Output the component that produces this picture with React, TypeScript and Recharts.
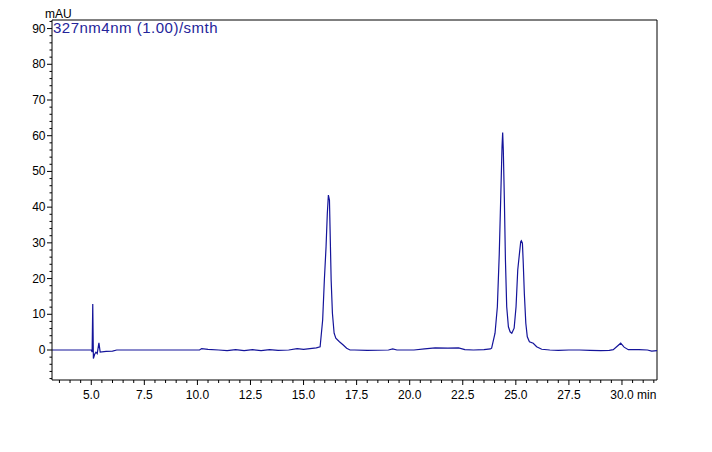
import { LineChart, Line, XAxis, YAxis, ReferenceLine } from "recharts";

// Chromatogram 327nm4nm (1.00)/smth — retention time (min) vs absorbance (mAU).
// Hand-read [time, mAU] points, split by region of the run.
const SOLVENT_FRONT: [number, number][] = [
  [3.15, 0.0], [5.0, 0.0], [5.04, -0.6], [5.07, 12.9], [5.1, -2.4], [5.16, -1.2],
  [5.22, -0.6], [5.28, -1.0], [5.36, 2.0], [5.42, -0.6], [5.7, -0.4], [6.0, -0.3], [6.2, 0.0],
];
const BASELINE_A: [number, number][] = [
  [6.5, 0.0], [8.0, 0.0], [10.1, 0.0], [10.2, 0.4], [10.5, 0.2], [11.0, 0.0], [11.4, -0.2],
  [11.8, 0.1], [12.2, -0.2], [12.6, 0.1], [13.0, -0.2], [13.4, 0.1], [13.8, -0.1], [14.3, 0.0],
  [14.7, 0.4], [15.0, 0.2], [15.3, 0.4], [15.6, 0.6],
];
const PEAK_16: [number, number][] = [
  [15.78, 0.9], [15.9, 8.4], [15.98, 19.6], [16.06, 28.9], [16.12, 38.3], [16.17, 43.4],
  [16.22, 42.0], [16.25, 33.6], [16.3, 19.6], [16.36, 10.3], [16.44, 4.7], [16.52, 3.3],
  [16.69, 2.3], [16.87, 1.4], [17.03, 0.5], [17.19, 0.0],
];
const BASELINE_B: [number, number][] = [
  [17.4, 0.0], [18.0, -0.1], [19.0, 0.0], [19.2, 0.3], [19.4, 0.0], [20.2, 0.0], [20.7, 0.3],
  [21.2, 0.6], [21.8, 0.5], [22.3, 0.6], [22.6, 0.1], [23.0, 0.0], [23.5, 0.1], [23.8, 0.3],
];
const PEAKS_24_25: [number, number][] = [
  [23.86, 0.5], [24.02, 4.7], [24.13, 12.1], [24.22, 27.0], [24.29, 43.0], [24.35, 57.0],
  [24.38, 60.9], [24.41, 56.0], [24.46, 42.0], [24.51, 25.2], [24.57, 12.1], [24.65, 6.5],
  [24.73, 5.1], [24.81, 4.7], [24.92, 6.1], [25.01, 12.1], [25.09, 22.4], [25.17, 27.0],
  [25.23, 30.3], [25.26, 30.6], [25.31, 29.9], [25.35, 24.3], [25.4, 15.9], [25.47, 7.5],
  [25.54, 3.7], [25.64, 2.3], [25.82, 1.9], [25.98, 0.9], [26.22, 0.2],
];
const BASELINE_C: [number, number][] = [
  [26.6, 0.0], [27.0, -0.1], [27.5, 0.0], [28.0, 0.0], [28.5, -0.1], [29.0, -0.2], [29.4, -0.1],
  [29.59, 0.1], [29.94, 1.9], [30.1, 0.8], [30.3, 0.1], [30.8, 0.1], [31.2, 0.0], [31.4, -0.3],
  [31.65, -0.2],
];

const X_DOMAIN: [number, number] = [3.15, 31.65];
const Y_DOMAIN: [number, number] = [-8.4, 92.4];
const X_LABELS = [5, 7.5, 10, 12.5, 15, 17.5, 20, 22.5, 25, 27.5, 30];
const Y_LABELS = [0, 10, 20, 30, 40, 50, 60, 70, 80, 90];
// minor ticks: every 0.5 min, every 2 mAU
const X_TICKS = Array.from({ length: 57 }, (_, i) => 3.5 + i * 0.5);
const Y_TICKS = Array.from({ length: 51 }, (_, i) => -8 + i * 2);

const data = [...SOLVENT_FRONT, ...BASELINE_A, ...PEAK_16, ...BASELINE_B, ...PEAKS_24_25, ...BASELINE_C]
  .map(([t, v]) => ({ t, v }));

const FONT = "'Liberation Sans', Arial, sans-serif";
const LINE = "#14149a";

const isMajor = (list: number[], v: number) => list.some((m) => Math.abs(m - v) < 1e-6);

function XTick({ x, y, payload }: any) {
  const major = isMajor(X_LABELS, payload.value);
  return (
    <g>
      <line x1={x} x2={x} y1={y} y2={y + (major ? 5 : 3)} stroke="#000" />
      {major && (
        <text x={x} y={y + 19} textAnchor="middle" fontSize={12} fontFamily={FONT} fill="#000">
          {payload.value.toFixed(1)}
        </text>
      )}
      {major && payload.value === 30 && (
        <text x={x + 15} y={y + 19} fontSize={12} fontFamily={FONT} fill="#000">min</text>
      )}
    </g>
  );
}

function YTick({ x, y, payload }: any) {
  const major = isMajor(Y_LABELS, payload.value);
  return (
    <g>
      <line x1={x - (major ? 5 : 2.5)} x2={x} y1={y} y2={y} stroke="#000" />
      {major && (
        <text x={x - 6.5} y={y + 4} textAnchor="end" fontSize={12} fontFamily={FONT} fill="#000">
          {payload.value}
        </text>
      )}
    </g>
  );
}

export default function App() {
  return (
    <div style={{ position: "absolute", left: 0, top: 0, width: 712, height: 452, background: "#fff" }}>
      <LineChart width={712} height={452} data={data} margin={{ top: 20, right: 55, bottom: 42, left: 0 }}>
        <XAxis dataKey="t" type="number" domain={X_DOMAIN} allowDataOverflow ticks={X_TICKS} interval={0}
          tickSize={0} tickMargin={0} tickLine={false} axisLine={{ stroke: "#000" }} height={30} tick={<XTick />} />
        <YAxis type="number" domain={Y_DOMAIN} allowDataOverflow ticks={Y_TICKS} interval={0}
          tickSize={0} tickMargin={0} tickLine={false} axisLine={{ stroke: "#000" }} width={52} tick={<YTick />}
          label={{
            content: ({ viewBox }: any) => (
              <text x={viewBox.x + viewBox.width - 7} y={viewBox.y - 2.5} fontSize={12} fontFamily={FONT} fill="#000">mAU</text>
            ),
          }} />
        <ReferenceLine y={Y_DOMAIN[1]} stroke="#000" ifOverflow="extendDomain" />
        <ReferenceLine x={X_DOMAIN[1]} stroke="#000" ifOverflow="extendDomain" />
        <Line type="linear" dataKey="v" stroke={LINE} strokeWidth={1.2} dot={false} isAnimationActive={false} />
      </LineChart>
      <div style={{ position: "absolute", left: 53, top: 20, fontFamily: FONT, fontSize: 15, lineHeight: "15px",
        letterSpacing: 0.5, color: "#24249a", whiteSpace: "nowrap" }}>
        327nm4nm (1.00)/smth
      </div>
    </div>
  );
}
